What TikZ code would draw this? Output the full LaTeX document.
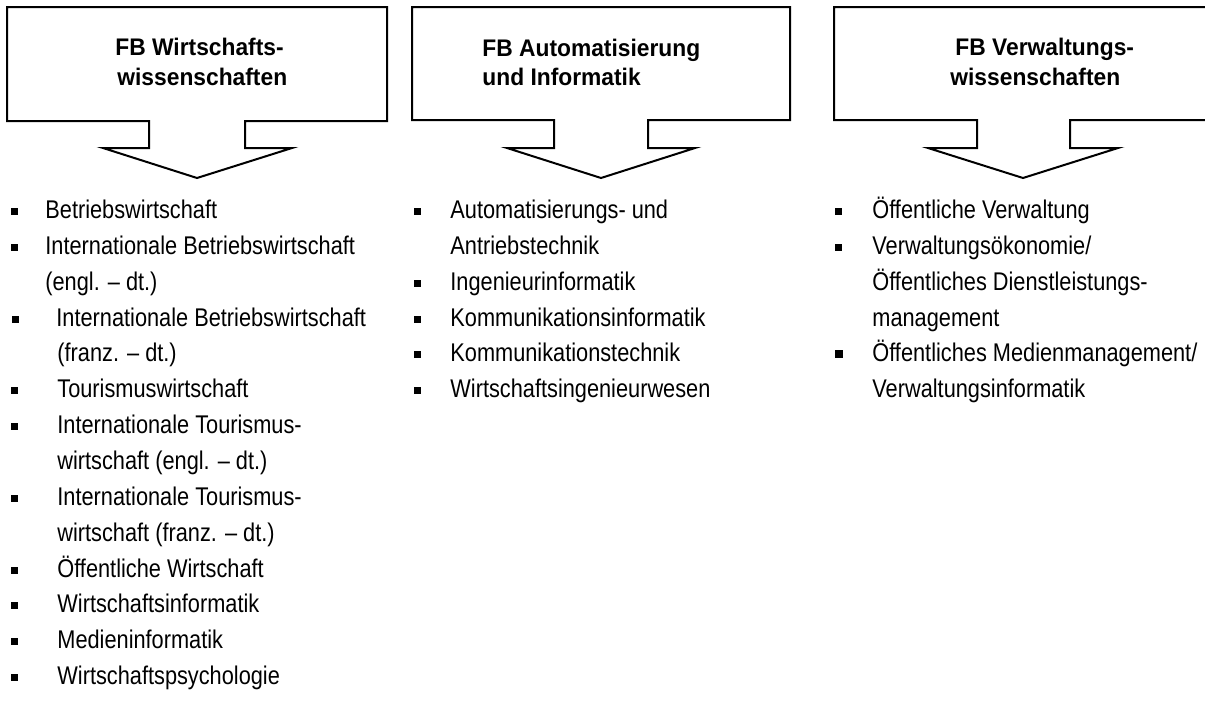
\documentclass[tikz,border=0pt]{standalone}
\usepackage{fontspec}
\usepackage{tikz}
\newfontfamily\listfont[FakeStretch=0.85]{Liberation Sans}
\newfontfamily\headfont[FakeStretch=0.95]{Liberation Sans}

\begin{document}
\begin{tikzpicture}[x=0.5pt, y=-0.5pt,
    arrowbox/.style={draw, line width=1pt, line join=miter},
    head/.style={anchor=base west, inner sep=0pt, font=\headfont\bfseries\fontsize{12}{14}\selectfont},
    entry/.style={anchor=base west, inner sep=0pt, font=\listfont\fontsize{12.8}{15}\selectfont},
    bullet/.style={fill, inner sep=0pt, minimum size=3.5pt}]
    \useasboundingbox (0,0) rectangle (1205,702);
    % Arrow boxes of the three departments
    \draw[arrowbox] (7,7) -- (387,7) -- (387,121) -- (245,121) -- (245,148) -- (292,148) -- (197,178) -- (103,148) -- (149,148) -- (149,121) -- (7,121) -- cycle;
    \draw[arrowbox] (412,7) -- (790,7) -- (790,120) -- (648,120) -- (648,148) -- (695,148) -- (601,178) -- (507,148) -- (554,148) -- (554,120) -- (412,120) -- cycle;
    \draw[arrowbox] (834,7) -- (1213,7) -- (1213,120) -- (1070,120) -- (1070,148) -- (1118,148) -- (1023,178) -- (928,148) -- (977,148) -- (977,120) -- (834,120) -- cycle;
    % Headings
    \node[head] (h1a) at (115,55) {FB Wirtschafts-};
    \node[head] (h1b) at (117,85) {wissenschaften};
    \node[head] (h2a) at (482,56) {FB Automatisierung};
    \node[head] (h2b) at (482,85) {und Informatik};
    \node[head] (h3a) at (955,55) {FB Verwaltungs-};
    \node[head] (h3b) at (950,85) {wissenschaften};
    % Study programmes, FB Wirtschaftswissenschaften
    \node[bullet] (b1a) at (14,211) {};   \node[entry] (w1) at (45,218) {Betriebswirtschaft};
    \node[bullet] (b1b) at (14,247) {};   \node[entry] (w2) at (45,254) {Internationale Betriebswirtschaft};
                                          \node[entry] (w3) at (45,290) {(engl. – dt.)};
    \node[bullet] (b1c) at (15,319) {};   \node[entry] (w4) at (56,326) {Internationale Betriebswirtschaft};
                                          \node[entry] (w5) at (57,361) {(franz. – dt.)};
    \node[bullet] (b1d) at (14,390) {};   \node[entry] (w6) at (57,397) {Tourismuswirtschaft};
    \node[bullet] (b1e) at (14,426) {};   \node[entry] (w7) at (57,433) {Internationale Tourismus-};
                                          \node[entry] (w8) at (57,469) {wirtschaft (engl. – dt.)};
    \node[bullet] (b1f) at (14,498) {};   \node[entry] (w9) at (57,505) {Internationale Tourismus-};
                                          \node[entry] (w10) at (57,541) {wirtschaft (franz. – dt.)};
    \node[bullet] (b1g) at (14,570) {};   \node[entry] (w11) at (57,577) {Öffentliche Wirtschaft};
    \node[bullet] (b1h) at (14,605) {};   \node[entry] (w12) at (57,612) {Wirtschaftsinformatik};
    \node[bullet] (b1i) at (14,641) {};   \node[entry] (w13) at (57,648) {Medieninformatik};
    \node[bullet] (b1j) at (14,677) {};   \node[entry] (w14) at (57,684) {Wirtschaftspsychologie};
    % Study programmes, FB Automatisierung und Informatik
    \node[bullet] (b2a) at (417,211) {};  \node[entry] (a1) at (450,218) {Automatisierungs- und};
                                          \node[entry] (a2) at (450,254) {Antriebstechnik};
    \node[bullet] (b2b) at (417,283) {};  \node[entry] (a3) at (450,290) {Ingenieurinformatik};
    \node[bullet] (b2c) at (417,319) {};  \node[entry] (a4) at (450,326) {Kommunikationsinformatik};
    \node[bullet] (b2d) at (417,354) {};  \node[entry] (a5) at (450,361) {Kommunikationstechnik};
    \node[bullet] (b2e) at (417,390) {};  \node[entry] (a6) at (450,397) {Wirtschaftsingenieurwesen};
    % Study programmes, FB Verwaltungswissenschaften
    \node[bullet] (b3a) at (838,211) {};  \node[entry] (v1) at (872,218) {Öffentliche Verwaltung};
    \node[bullet] (b3b) at (838,247) {};  \node[entry] (v2) at (872,254) {Verwaltungsökonomie/};
                                          \node[entry] (v3) at (872,290) {Öffentliches Dienstleistungs-};
                                          \node[entry] (v4) at (872,326) {management};
    \node[bullet, minimum size=4pt] (b3c) at (839,354) {};
                                          \node[entry] (v5) at (872,361) {Öffentliches Medienmanagement/};
                                          \node[entry] (v6) at (872,397) {Verwaltungsinformatik};
\end{tikzpicture}
\end{document}
